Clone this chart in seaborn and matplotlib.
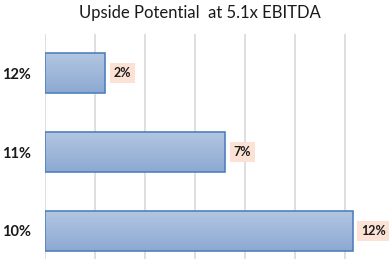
import matplotlib
matplotlib.use("Agg")
import matplotlib.pyplot as plt
import numpy as np
import pandas as pd
import seaborn as sns
from matplotlib.colors import LinearSegmentedColormap

categories = ["12%", "11%", "10%"]
values = [2.4, 7.2, 12.3]
value_labels = ["2%", "7%", "12%"]
title = "Upside Potential  at 5.1x EBITDA"

sns.set_theme(style="white")
plt.rcParams["font.family"] = ["Lato", "DejaVu Sans"]

W, H = 392, 259
fig = plt.figure(figsize=(W / 100, H / 100), dpi=100)
# axes in pixel coordinates
l, r, t, b = 45, 392, 33.5, 270.5
ax = fig.add_axes([l / W, 1 - b / H, (r - l) / W, (b - t) / H])

df = pd.DataFrame({"cat": categories, "val": values})
sns.barplot(data=df, x="val", y="cat", orient="h", ax=ax, width=0.5,
            color="#A3B9DA", edgecolor="#4F81BD", linewidth=1.2, zorder=3)

# gradient fill clipped to each bar
grad = np.linspace(0, 1, 256).reshape(-1, 1)
cmap = LinearSegmentedColormap.from_list("g", ["#B3C6E2", "#8CA9D2"])
for p in ax.patches:
    x0, y0 = p.get_x(), p.get_y()
    w, h = p.get_width(), p.get_height()
    im = ax.imshow(grad, cmap=cmap, aspect="auto", extent=[x0, x0 + w, y0 + h, y0],
                   origin="upper", zorder=3.5)
    im.set_clip_path(p)
    p.set_facecolor("none")
    p.set_zorder(4)

ax.set_xlim(0, (r - l) / 25.0)
ax.set_ylim(2.5, -0.5)
ax.set_xticks(np.arange(0, 13, 2))
ax.set_xticklabels([])
ax.tick_params(axis="x", length=0)
ax.tick_params(axis="y", length=0, pad=10)
ax.grid(axis="x", color="#D9D9D9", linewidth=1.2, zorder=0)
ax.grid(axis="y", visible=False)
for s in ax.spines.values():
    s.set_visible(False)
ax.set_xlabel("")
ax.set_ylabel("")
for lab in ax.get_yticklabels():
    lab.set_fontweight("bold")
    lab.set_fontsize(10.5)
    lab.set_color("#1a1a1a")

for i, (v, txt) in enumerate(zip(values, value_labels)):
    ax.annotate(txt, xy=(v, i), xytext=(6, 0), textcoords="offset points",
                ha="left", va="center", fontsize=9, fontweight="bold", color="#1a1a1a",
                bbox=dict(boxstyle="square,pad=0.3", fc="#FBE2D5", ec="none"), zorder=5)

fig.text(200 / W, 1 - 13 / H, title, ha="center", va="center", fontsize=12, color="#1a1a1a")

fig.savefig("out.png", dpi=100)
